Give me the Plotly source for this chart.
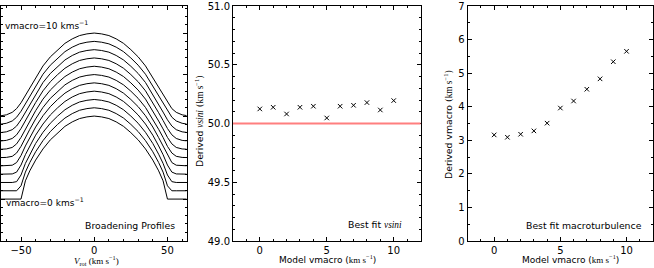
import plotly.graph_objects as go

# ---------------- data ----------------
# Panel 1: broadening profiles (half profiles, v >= 0; profiles are symmetric)
v_half = [0, 5, 10, 15, 20, 25, 30, 35, 40, 44, 47, 50, 53, 56, 60, 64]
inner = [1.00, 0.99, 0.97, 0.93, 0.876, 0.80, 0.713, 0.604]
prof_vm0 = inner + [0.470, 0.34, 0.220, 0.000, 0.000, 0.000, 0.000, 0.000]
prof_vm1 = inner + [0.470, 0.34, 0.225, 0.060, 0.000, 0.000, 0.000, 0.000]
prof_vm2 = inner + [0.470, 0.34, 0.230, 0.090, 0.010, 0.000, 0.000, 0.000]
prof_vm3 = inner + [0.470, 0.34, 0.235, 0.110, 0.025, 0.003, 0.000, 0.000]
prof_vm4 = inner + [0.468, 0.34, 0.240, 0.125, 0.040, 0.008, 0.000, 0.000]
prof_vm5 = inner + [0.466, 0.34, 0.243, 0.135, 0.055, 0.015, 0.002, 0.000]
prof_vm6 = inner + [0.465, 0.34, 0.245, 0.143, 0.065, 0.022, 0.004, 0.000]
prof_vm7 = inner + [0.463, 0.34, 0.247, 0.150, 0.074, 0.030, 0.007, 0.000]
prof_vm8 = inner + [0.462, 0.34, 0.248, 0.155, 0.080, 0.036, 0.010, 0.001]
prof_vm9 = inner + [0.461, 0.34, 0.249, 0.158, 0.086, 0.041, 0.013, 0.002]
prof_vm10 = inner + [0.460, 0.34, 0.250, 0.160, 0.090, 0.045, 0.015, 0.003]
profiles = [prof_vm0, prof_vm1, prof_vm2, prof_vm3, prof_vm4, prof_vm5,
            prof_vm6, prof_vm7, prof_vm8, prof_vm9, prof_vm10]
profile_offsets = [0.0, 0.1, 0.2, 0.3, 0.4, 0.5, 0.6, 0.7, 0.8, 0.9, 1.0]

# Panels 2 & 3
model_vmacro = [0, 1, 2, 3, 4, 5, 6, 7, 8, 9, 10]
derived_vsini = [50.124, 50.138, 50.081, 50.138, 50.147, 50.047,
                 50.147, 50.155, 50.178, 50.115, 50.195]
derived_vmacro = [3.16, 3.09, 3.18, 3.28, 3.51, 3.96, 4.17, 4.52, 4.83, 5.34, 5.65]
true_vsini = 50.0

# ---------------- layout helpers ----------------
W, H = 654, 268
ML, MR, MT, MB = 0, 0, 4, 27
PW, PH = W - ML - MR, H - MT - MB


def px(x):
    return (x - ML) / PW


def py(y):
    return (H - MB - y) / PH


SANS = "DejaVu Sans"
SERIF = "Liberation Serif"


def serif(s):
    return "<span style=\"font-family:'%s'\">%s</span>" % (SERIF, s)


fig = go.Figure()

# Panel 1 traces
for prof, off in zip(profiles, profile_offsets):
    vv = [-v for v in v_half[::-1]] + v_half[1:]
    yy = [p + off for p in prof[::-1]] + [p + off for p in prof[1:]]
    fig.add_trace(go.Scatter(x=vv, y=yy, mode="lines",
                             line=dict(color="black", width=1),
                             xaxis="x", yaxis="y", showlegend=False,
                             hoverinfo="skip"))

# Panel 2
fig.add_trace(go.Scatter(x=model_vmacro, y=derived_vsini, mode="markers",
                         marker=dict(symbol="x-thin", size=4.5,
                                     line=dict(color="black", width=1)),
                         xaxis="x2", yaxis="y2", showlegend=False))
fig.add_shape(type="line", xref="x2 domain", yref="y2", x0=0, x1=1,
              y0=true_vsini, y1=true_vsini,
              line=dict(color="#ff7f7f", width=2.2))

# Panel 3
fig.add_trace(go.Scatter(x=model_vmacro, y=derived_vmacro, mode="markers",
                         marker=dict(symbol="x-thin", size=4.5,
                                     line=dict(color="black", width=1)),
                         xaxis="x3", yaxis="y3", showlegend=False))


def axis(domain, rng, dtick, minor_dtick, showlabels=True, anchor=None, fmt=None):
    d = dict(domain=domain, range=rng, dtick=dtick, tick0=0,
             ticks="inside", ticklen=4, tickwidth=0.8, tickcolor="black",
             showline=True, linecolor="black", linewidth=1, mirror="ticks",
             showgrid=False, zeroline=False, showticklabels=showlabels,
             ticklabeloverflow="allow",
             tickfont=dict(family=SANS, size=10, color="black"),
             minor=dict(dtick=minor_dtick, tick0=0, ticks="inside", ticklen=2,
                        tickwidth=0.6, tickcolor="black", showgrid=False))
    if anchor:
        d["anchor"] = anchor
    if fmt:
        d["tickformat"] = fmt
    return d


d1 = [px(0.5), px(186.5)]
d2 = [px(233), px(420.5)]
d3 = [px(467.7), px(653)]

fig.update_layout(
    width=W, height=H,
    margin=dict(l=ML, r=MR, t=MT, b=MB),
    paper_bgcolor="white", plot_bgcolor="white",
    font=dict(family=SANS, size=10, color="black"),
    xaxis=axis(d1, [-64, 63], 50, 10, anchor="y"),
    yaxis=axis([0, 1], [-0.505, 2.326], 0.5, 0.1, showlabels=False, anchor="x"),
    xaxis2=axis(d2, [-2, 12], 5, 1, anchor="y2"),
    yaxis2=axis([0, 1], [49, 51], 0.5, 0.1, anchor="x2", fmt=".1f"),
    xaxis3=axis(d3, [-2, 12], 5, 1, anchor="y3"),
    yaxis3=axis([0, 1], [0, 7], 1, 0.5, anchor="x3"),
)

kms = "(" + serif("km s<sup>−1</sup>") + ")"
ann = [
    # panel 1 texts
    dict(x=px(3), y=py(23.5), text="vmacro=10 kms<sup>−1</sup>", xanchor="left", size=9),
    dict(x=px(4), y=py(202), text="vmacro=0 kms<sup>−1</sup>", xanchor="left", size=9),
    dict(x=px(177), y=py(225), text="Broadening Profiles", xanchor="right", size=9.3),
    dict(x=px(96), y=py(261), text=serif("<i>V</i><sub>rot</sub> (km s<sup>−1</sup>)"),
         xanchor="center", size=9),
    # panel 2 texts
    dict(x=px(404), y=py(224), text="Best fit " + serif("<i>vsini</i>"), xanchor="right", size=9.3),
    dict(x=px(327), y=py(259), text="Model vmacro " + kms, xanchor="center", size=9),
    dict(x=px(199), y=py(120), text="Derived " + serif("<i>vsini</i>") + " " + kms,
         xanchor="center", textangle=-90, size=9.3),
    # panel 3 texts
    dict(x=px(644), y=py(225), text="Best fit macroturbulence", xanchor="right", size=9.3),
    dict(x=px(570), y=py(259), text="Model vmacro " + kms, xanchor="center", size=9),
    dict(x=px(448), y=py(124), text="Derived vmacro " + kms,
         xanchor="center", textangle=-90, size=9.3),
]
for a in ann:
    size = a.pop("size")
    fig.add_annotation(xref="paper", yref="paper", showarrow=False,
                       yanchor="middle", font=dict(family=SANS, size=size, color="black"),
                       **a)

fig.write_html("out.html", config={"displayModeBar": False},
               post_script="document.body.style.margin='0';document.body.style.overflow='hidden';")
